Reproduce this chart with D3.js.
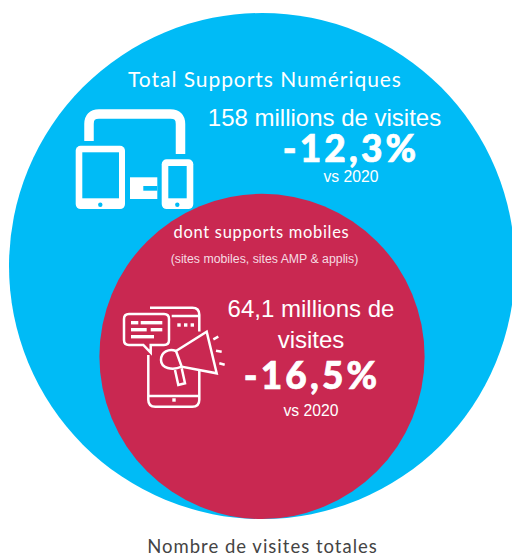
<!DOCTYPE html>
<html>
<head>
<meta charset="utf-8">
<script src="https://cdn.jsdelivr.net/npm/d3@7"></script>
<style>
    html, body { margin: 0; padding: 0; background: white; }
    svg { display: block; }
</style>
</head>
<body>
<script>
let series = ["Total Supports Numériques", "dont supports mobiles"]
let visits = [158, 64.1]
let visitLabels = [["158 millions de visites"], ["64,1 millions de", "visites"]]
let changes = ["-12,3%", "-16,5%"]
let compared = "vs 2020"
let subtitle = "(sites mobiles, sites AMP & applis)"
let footer = "Nombre de visites totales"
let colors = ["#00bbf6", "#c92851"]

function main(){
    const width = 512
    const height = 556
    const centerX = 262
    const baseY = 519

    let svg = d3.select("body")
        .append('svg')
        .attr('width', width)
        .attr('height', height)
        .attr('style', 'background-color: white')

    // circles sit on a common base line, the way the original nests them
    let rScale = d3.scalePow()
        .exponent(0.49)
        .domain([0, 158])
        .range([0, 253])

    svg.selectAll('circle.visits')
        .data(visits)
        .enter()
        .append('circle')
        .attr('class', 'visits')
        .attr('cx', centerX)
        .attr('cy', d => baseY - rScale(d))
        .attr('r', d => rScale(d))
        .attr('fill', (d, i) => colors[i])

    const titleFont = "Lato, sans-serif"
    const bodyFont = "'Liberation Sans', Arial, sans-serif"

    function label(txt, x, y, size, font, opts){
        opts = opts || {}
        let t = svg.append('text')
            .attr('x', x)
            .attr('y', y)
            .attr('text-anchor', 'middle')
            .attr('font-family', font)
            .attr('font-size', size)
            .attr('font-weight', opts.weight || 400)
            .attr('letter-spacing', opts.spacing || 0)
            .attr('fill', opts.fill || 'white')
            .text(txt)
        if (opts.stroke) {
            t.attr('stroke', 'white').attr('stroke-width', opts.stroke)
        }
        return t
    }

    // outer circle
    label(series[0], 265, 87, 21, titleFont, {spacing: 0.95})
    label(visitLabels[0][0], 324.5, 126, 24, bodyFont)
    label(changes[0], 351, 162, 37, titleFont, {weight: 900, spacing: 3.2, stroke: 0.7})
    label(compared, 351, 182, 15.7, bodyFont)

    // inner circle
    label(series[1], 261.5, 238, 16.5, titleFont, {spacing: 0.7})
    label(subtitle, 264.5, 263, 12.3, bodyFont, {fill: '#f6dbe2'})
    label(visitLabels[1][0], 311, 317, 24, bodyFont)
    label(visitLabels[1][1], 311, 348, 24, bodyFont)
    label(changes[1], 312, 389, 37, titleFont, {weight: 900, spacing: 3.2, stroke: 0.7})
    label(compared, 311, 416, 15.7, bodyFont)

    label(footer, 262.5, 553, 18.5, titleFont, {fill: '#444444', spacing: 1})

    devicesIcon(svg)
    megaphoneIcon(svg)
}

function devicesIcon(svg){
    let g = svg.append('g').attr('class', 'icon-devices')
    let blue = colors[0]

    g.append('path')
        .attr('d', 'M89 141V124Q89 114 99 114H170.5Q180.5 114 180.5 124V154')
        .attr('fill', 'none')
        .attr('stroke', 'white')
        .attr('stroke-width', 9.5)

    // tablet, phone: [x, y, w, h, screen x, screen y, screen w, screen h, dot x]
    let bodies = [
        [75.7, 145.7, 49.3, 63.4, 82.3, 152.3, 36.7, 46, 100.3],
        [161.7, 159.3, 31.6, 49.8, 168.3, 166, 18.4, 32.3, 177.3]
    ]
    bodies.forEach(b => {
        g.append('rect').attr('x', b[0]).attr('y', b[1]).attr('width', b[2]).attr('height', b[3]).attr('rx', 5).attr('fill', 'white')
        g.append('rect').attr('x', b[4]).attr('y', b[5]).attr('width', b[6]).attr('height', b[7]).attr('fill', blue)
        g.append('circle').attr('cx', b[8]).attr('cy', 204.7).attr('r', 2.2).attr('fill', blue)
    })

    g.append('rect').attr('x', 130).attr('y', 177.3).attr('width', 27.3).attr('height', 21.7).attr('fill', 'white')
    g.append('rect').attr('x', 143.3).attr('y', 186).attr('width', 14).attr('height', 4.7).attr('fill', blue)
}

function megaphoneIcon(svg){
    let g = svg.append('g')
        .attr('class', 'icon-megaphone')
        .attr('fill', 'none')
        .attr('stroke', 'white')
        .attr('stroke-width', 2.5)

    let lines = [
        'M150 307.7H192.3Q199.3 307.7 199.3 314.7V331.5',
        'M199.3 369V399.7Q199.3 406.7 192.3 406.7H155.3Q148.3 406.7 148.3 399.7V355',
        'M148.3 396H199.3',
        'M171.7 316H199.3',
        // speech bubble
        'M129 314H164Q169 314 169 319V340Q169 345 164 345H150.7V352.7L143.3 345H129Q124 345 124 340V319Q124 314 129 314Z',
        // megaphone
        'M176 351L206.7 331.7L216.7 373.3L181.7 366.7Z',
        'M176 351C169 348 161 352 161 360C161 368 172 371 181.7 366.7',
        'M175 370L178.3 385L185 383.3L181.7 368.3',
        // sound ticks
        'M213.3 339.3L218.3 336.7',
        'M216 350.7L221.7 351.7',
        'M219.3 363.3L224.7 364.7'
    ]
    lines.forEach(d => g.append('path').attr('d', d))

    // small filled bits: [x, y, w, h]
    let bars = [
        [131, 321, 7.3, 3.4], [140.7, 321, 21.6, 3.4],
        [131, 328, 15.7, 3.4], [150.7, 328, 11.6, 3.4],
        [131, 335, 23, 3.4],
        [177.3, 323.3, 3.4, 3.4], [184, 323.3, 3.4, 3.4], [190.6, 323.3, 3.4, 3.4],
        [172.3, 398.3, 3.4, 3.4]
    ]
    bars.forEach(b => {
        g.append('rect')
            .attr('x', b[0]).attr('y', b[1]).attr('width', b[2]).attr('height', b[3])
            .attr('fill', 'white').attr('stroke', 'none')
    })
}

main()
</script>
</body>
</html>
